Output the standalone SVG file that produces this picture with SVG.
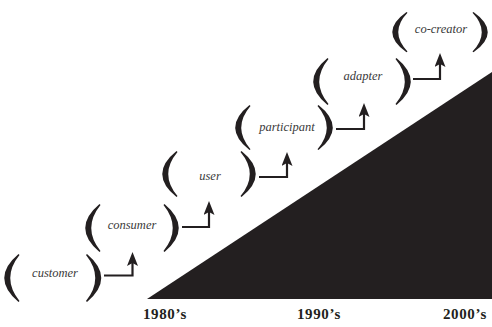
<svg xmlns="http://www.w3.org/2000/svg" xmlns:xlink="http://www.w3.org/1999/xlink" width="492" height="327" viewBox="0 0 492 327">
<style>
.lbl{font-family:"Liberation Serif",serif;font-style:italic;font-size:12.5px;fill:#3a3a3a;text-anchor:middle}
.yr{font-family:"Liberation Serif",serif;font-weight:bold;font-size:15px;fill:#231f20;letter-spacing:0.6px}
.par{fill:#231f20}
.con{fill:none;stroke:#231f20;stroke-width:2.2;marker-end:url(#ah)}
</style>
<defs>
<path id="lp" d="M14.5,0 Q-14,24 14.5,48 L15.5,47 Q-3,24 15.5,1 Z"/>
<path id="rp" d="M0.5,0 Q29,24 0.5,48 L-0.5,47 Q18,24 -0.5,1 Z"/>
<marker id="ah" viewBox="0 0 14 11" refX="3" refY="5.5" markerWidth="14" markerHeight="11" orient="auto" markerUnits="userSpaceOnUse">
<path d="M0,0 L14,5.5 L0,11 L3,5.5 Z" fill="#231f20"/>
</marker>
</defs>
<polygon id="wedge" points="147,299 492,299 492,72" fill="#231f20"/>
<g id="n1">
<use xlink:href="#lp" class="par" transform="translate(4,254)"/>
<use xlink:href="#rp" class="par" transform="translate(86.5,254)"/>
<text class="lbl" x="55" y="277">customer</text>
</g>
<g id="n2">
<use xlink:href="#lp" class="par" transform="translate(85,204)"/>
<use xlink:href="#rp" class="par" transform="translate(164,204)"/>
<text class="lbl" x="132" y="229">consumer</text>
</g>
<g id="n3">
<use xlink:href="#lp" class="par" transform="translate(162,151) scale(1,0.96)"/>
<use xlink:href="#rp" class="par" transform="translate(241,151) scale(1,0.96)"/>
<text class="lbl" x="210" y="180">user</text>
</g>
<g id="n4">
<use xlink:href="#lp" class="par" transform="translate(235,105) scale(1,0.94)"/>
<use xlink:href="#rp" class="par" transform="translate(318,105) scale(1,0.94)"/>
<text class="lbl" x="287" y="131">participant</text>
</g>
<g id="n5">
<use xlink:href="#lp" class="par" transform="translate(313,58) scale(1,0.98)"/>
<use xlink:href="#rp" class="par" transform="translate(396,58) scale(1,0.98)"/>
<text class="lbl" x="363" y="80">adapter</text>
</g>
<g id="n6">
<use xlink:href="#lp" class="par" transform="translate(392,12) scale(1,0.84)"/>
<use xlink:href="#rp" class="par" transform="translate(473,12) scale(1,0.84)"/>
<text class="lbl" x="441" y="33">co-creator</text>
</g>
<g id="connectors">
<path class="con" d="M104,275.5 H132.5 V263"/>
<path class="con" d="M182,227 H209 V212"/>
<path class="con" d="M259,177 H287 V163"/>
<path class="con" d="M336,129 H364 V114"/>
<path class="con" d="M413,79 H440 V64"/>
</g>
<g id="years">
<text class="yr" x="143" y="319">1980’s</text>
<text class="yr" x="297" y="319">1990’s</text>
<text class="yr" x="443" y="319">2000’s</text>
</g>
</svg>
